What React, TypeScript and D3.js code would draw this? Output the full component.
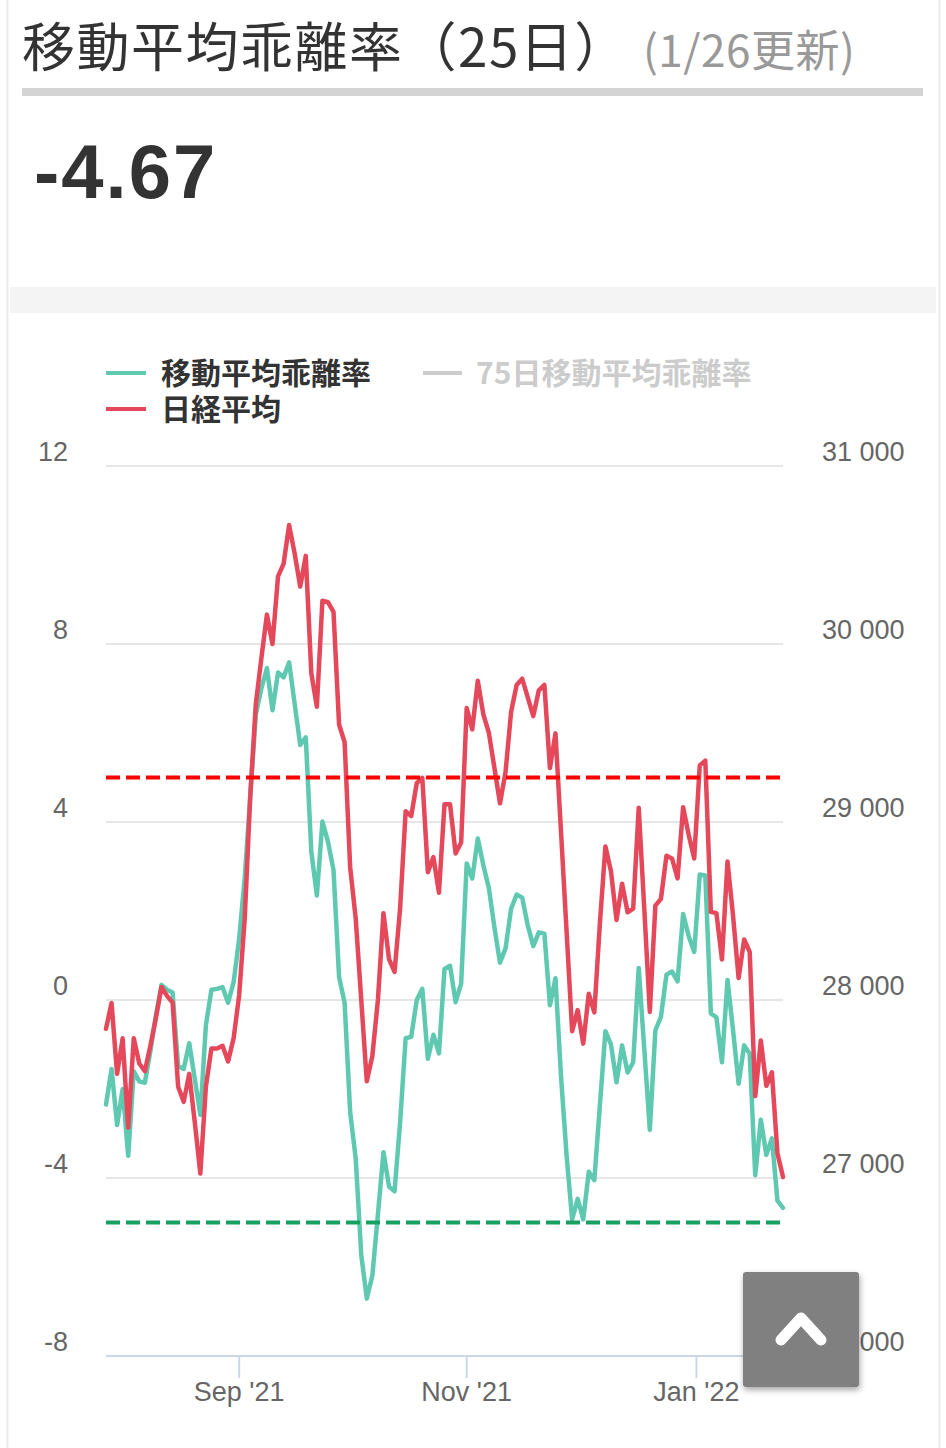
import React from 'react';
import * as d3 from 'd3';

const W = 946;
const H = 1448;

// Trading calendar (Tokyo market) — weekends and these holidays are skipped
const startDate = '2021-07-28';
const endDate = '2022-01-26';
const holidays = ['2021-08-09', '2021-09-20', '2021-09-23', '2021-11-03', '2021-11-23', '2021-12-31', '2022-01-03', '2022-01-10'];

// 25-day moving-average deviation rate (%)
const kairi25 = [
  -2.35, -1.55, -2.81, -2.0, -3.5, -1.6, -1.83, -1.86, -1.15, -0.34,
  0.34, 0.23, 0.17, -1.49, -1.55, -0.97, -1.78, -2.58, -0.57, 0.23,
  0.25, 0.29, -0.06, 0.4, 1.38, 2.75, 4.59, 6.42, 7.0, 7.46,
  6.51, 7.36, 7.25, 7.59, 6.65, 5.73, 5.9, 3.33, 2.35, 4.01,
  3.56, 2.92, 0.52, -0.06, -2.52, -3.56, -5.73, -6.71, -6.19, -4.82,
  -3.42, -4.19, -4.3, -2.75, -0.86, -0.83, 0.0, 0.25, -1.32, -0.78,
  -1.2, 0.7, 0.77, -0.05, 0.37, 3.07, 2.73, 3.63, 3.03, 2.51,
  1.63, 0.84, 1.16, 2.05, 2.37, 2.3, 1.68, 1.21, 1.52, 1.49,
  -0.12, 0.49, -1.72, -3.49, -4.93, -4.47, -4.93, -3.86, -4.05, -2.37,
  -0.7, -1.0, -1.85, -1.02, -1.63, -1.4, 0.72, -1.1, -2.92, -0.68,
  -0.38, 0.57, 0.64, 0.42, 1.93, 1.44, 1.08, 2.82, 2.8, -0.3,
  -0.39, -1.4, 0.45, -0.68, -1.88, -1.02, -1.21, -3.94, -2.69, -3.48,
  -3.11, -4.51, -4.67,
];

// Nikkei 225 close (yen)
const nikkei = [
  27838, 27983, 27585, 27785, 27283, 27785, 27643, 27600, 27743, 27900,
  28073, 28023, 27985, 27513, 27428, 27585, 27313, 27025, 27513, 27728,
  27728, 27743, 27655, 27785, 28028, 28458, 29148, 29663, 29920, 30165,
  30000, 30380, 30450, 30668, 30508, 30323, 30495, 29835, 29648, 30243,
  30235, 30180, 29548, 29448, 28745, 28458, 28000, 27543, 27685, 28000,
  28488, 28230, 28158, 28515, 29060, 29033, 29218, 29248, 28718, 28803,
  28603, 29100, 29100, 28823, 28885, 29640, 29520, 29793, 29605, 29500,
  29303, 29105, 29280, 29618, 29770, 29805, 29700, 29595, 29740, 29770,
  29303, 29498, 28943, 28385, 27825, 27943, 27755, 28035, 27930, 28430,
  28863, 28723, 28450, 28653, 28493, 28513, 29080, 28513, 27933, 28530,
  28568, 28810, 28795, 28683, 29083, 28928, 28795, 29318, 29345, 28495,
  28488, 28228, 28778, 28473, 28123, 28340, 28270, 27460, 27773, 27518,
  27593, 27138, 27005,
];

const titleMain = '移動平均乖離率（25日）';
const titleSub = '(1/26更新)';
const latestValue = '-4.67';
const legendNames = ['移動平均乖離率', '日経平均', '75日移動平均乖離率'];

const leftTicks = [-8, -4, 0, 4, 8, 12];
const rightTicks = [26000, 27000, 28000, 29000, 30000, 31000];
const xTickDates = ['2021-09-01', '2021-11-01', '2022-01-01'];
const xTickLabels = ["Sep '21", "Nov '21", "Jan '22"];
const upperLine = 5;
const lowerLine = -5;

const fmtDay = d3.utcFormat('%Y-%m-%d');
const tradingDays: Date[] = d3
  .utcDay.range(new Date(startDate), d3.utcDay.offset(new Date(endDate), 1))
  .filter((d) => d.getUTCDay() !== 0 && d.getUTCDay() !== 6 && !holidays.includes(fmtDay(d)));

const CJK = '"Noto Sans CJK JP", "Noto Sans", sans-serif';
const LAT = '"Liberation Sans", Arial, "Noto Sans", sans-serif';

export default function App() {
  const plotL = 106;
  const plotR = 783;
  const plotT = 466;
  const plotB = 1356;
  const n = kairi25.length;

  const x = d3.scaleLinear().domain([0, n - 1]).range([plotL, plotR]);
  const yL = d3.scaleLinear().domain([-8, 12]).range([plotB, plotT]);
  const yR = d3.scaleLinear().domain([26000, 31000]).range([plotB, plotT]);
  const fmtR = d3.formatLocale({ decimal: '.', thousands: ' ', grouping: [3], currency: ['', ''] }).format(',');

  // ordinal position for a calendar date between trading days
  const ordinal = (ds: string) => {
    const t = new Date(ds).getTime();
    const k = tradingDays.findIndex((d) => d.getTime() >= t);
    if (k <= 0) return 0;
    const a = tradingDays[k - 1].getTime();
    const b = tradingDays[k].getTime();
    return k - 1 + (t - a) / (b - a);
  };

  const lineL = d3.line<number>().x((_, i) => x(i)).y((d) => yL(d));
  const lineR = d3.line<number>().x((_, i) => x(i)).y((d) => yR(d));

  return (
    <svg
      width={W}
      height={H}
      style={{ position: 'absolute', left: 0, top: 0, background: '#fff' }}
      xmlns="http://www.w3.org/2000/svg"
    >
      <defs>
        <filter id="shadow" x="-30%" y="-30%" width="160%" height="160%">
          <feDropShadow dx="1" dy="3" stdDeviation="3" floodColor="#000" floodOpacity="0.35" />
        </filter>
        <clipPath id="plotClip">
          <rect x={plotL - 3} y={plotT - 60} width={plotR - plotL + 6} height={plotB - plotT + 60} />
        </clipPath>
      </defs>

      <rect x={0} y={0} width={W} height={H} fill="#fff" />
      {/* page frame */}
      <line x1={7.5} x2={7.5} y1={0} y2={H} stroke="#ececec" strokeWidth={2} />
      <line x1={939.5} x2={939.5} y1={0} y2={H} stroke="#ececec" strokeWidth={2} />
      <rect x={10} y={287} width={926} height={26} fill="#f4f4f4" />

      {/* header */}
      <text x={22} y={67} fontFamily={CJK} fontSize={53} letterSpacing={1.5} fill="#333">{titleMain}</text>
      <text x={643} y={67} fontFamily={CJK} fontSize={44} letterSpacing={0.5} fill="#999">{titleSub}</text>
      <rect x={22} y={88} width={901} height={8} fill="#d4d4d4" />
      <text x={34} y={198} fontFamily={LAT} fontWeight={700} fontSize={76} letterSpacing={2} fill="#333">{latestValue}</text>

      {/* legend */}
      <g fontFamily={CJK} fontWeight={700} fontSize={30}>
        <line x1={106} x2={146} y1={373} y2={373} stroke="#5ec9b0" strokeWidth={4} />
        <text x={161} y={384} fill="#333">{legendNames[0]}</text>
        <line x1={423} x2={462} y1={373} y2={373} stroke="#cccccc" strokeWidth={4} />
        <text x={476} y={384} fill="#cccccc">{legendNames[2]}</text>
        <line x1={106} x2={146} y1={409} y2={409} stroke="#e4485a" strokeWidth={4} />
        <text x={161} y={420} fill="#333">{legendNames[1]}</text>
      </g>

      {/* grid */}
      {leftTicks.filter((t) => t !== -8).map((t) => (
        <line key={'g' + t} x1={plotL} x2={plotR} y1={yL(t)} y2={yL(t)} stroke="#e6e6e6" strokeWidth={2} />
      ))}
      <line x1={plotL} x2={plotR} y1={plotB} y2={plotB} stroke="#ccd6eb" strokeWidth={2} />
      {xTickDates.map((d) => {
        const px = x(ordinal(d));
        return <line key={'t' + d} x1={px} x2={px} y1={plotB} y2={plotB + 22} stroke="#ccd6eb" strokeWidth={2} />;
      })}

      {/* axis labels */}
      <g fontFamily={LAT} fontSize={27} fill="#666">
        {leftTicks.map((t) => (
          <text key={'l' + t} x={68} y={yL(t) - 5} textAnchor="end">{t}</text>
        ))}
        {rightTicks.map((t) => (
          <text key={'r' + t} x={822} y={yR(t) - 5} textAnchor="start">{fmtR(t)}</text>
        ))}
        {xTickDates.map((d, i) => (
          <text key={'x' + d} x={x(ordinal(d))} y={1401} textAnchor="middle">{xTickLabels[i]}</text>
        ))}
      </g>

      {/* series */}
      <g clipPath="url(#plotClip)" fill="none" strokeLinejoin="round" strokeLinecap="round">
        <path d={lineL(kairi25) || ''} stroke="#5ec9b0" strokeWidth={4.5} />
        <path d={lineR(nikkei) || ''} stroke="#e4485a" strokeWidth={4.5} />
      </g>

      {/* plot lines */}
      <line x1={plotL} x2={plotR} y1={yL(upperLine)} y2={yL(upperLine)} stroke="#ff0000" strokeWidth={4} strokeDasharray="14,6" />
      <line x1={plotL} x2={plotR} y1={yL(lowerLine)} y2={yL(lowerLine)} stroke="#17a060" strokeWidth={4} strokeDasharray="14,6" />

      {/* scroll-to-top button */}
      <g filter="url(#shadow)">
        <rect x={743} y={1272} width={116} height={115} rx={3} fill="#808080" />
      </g>
      <polyline points="781,1340 801,1318 821,1340" fill="none" stroke="#fff" strokeWidth={11} strokeLinecap="round" strokeLinejoin="round" />
    </svg>
  );
}
